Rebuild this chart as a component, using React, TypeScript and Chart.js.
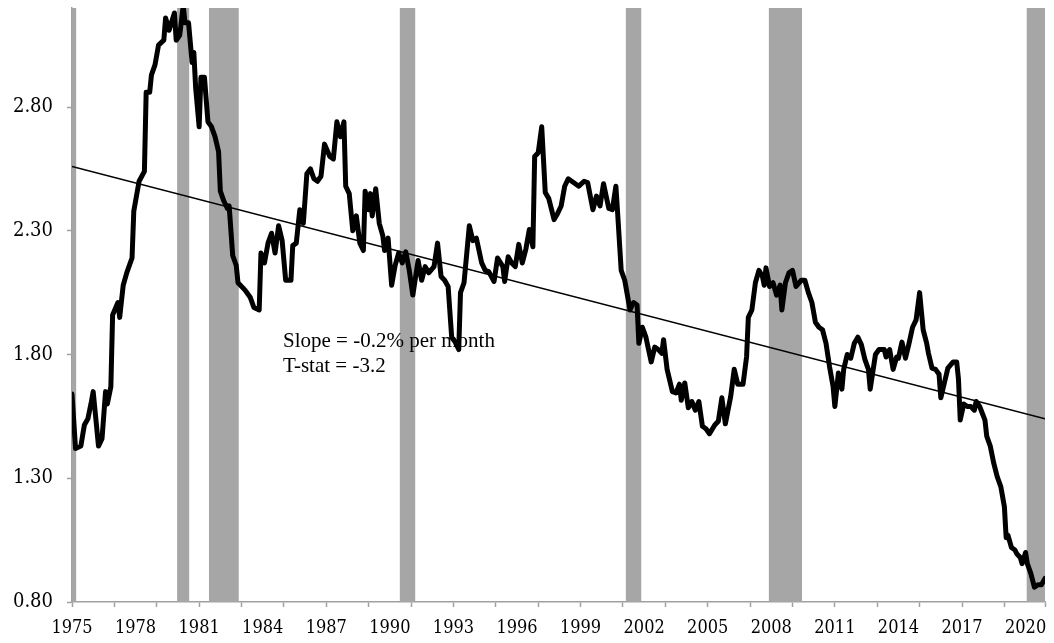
import React, { useEffect, useRef } from "react";
import { Chart, registerables } from "chart.js";

Chart.register(...registerables);

// Months counted from January 1975 (0 = Jan 1975)
const monthIndex = [
  0, 2, 5, 7, 9, 11, 12, 15, 17, 19, 20, 22, 23, 26, 27, 29, 31, 33, 34, 35,
  37, 38, 41, 42, 44, 45, 47, 49, 52, 53, 55, 58, 59, 61, 63, 64, 66, 68, 69, 70,
  72, 73, 75, 77, 79, 81, 83, 84, 86, 88, 89, 91, 93, 94, 98, 101, 103, 106, 107, 109,
  111, 113, 115, 117, 119, 121, 124, 125, 127, 129, 131, 133, 135, 137, 139, 141, 143, 146, 148, 150,
  152, 154, 155, 157, 159, 161, 163, 165, 166, 168, 169, 170, 172, 174, 176, 177, 179, 181, 183, 185,
  187, 189, 191, 193, 196, 198, 200, 202, 205, 207, 209, 211, 213, 215, 217, 219, 220, 222, 225, 227,
  229, 232, 234, 236, 239, 241, 244, 245, 247, 249, 251, 253, 255, 257, 259, 261, 262, 264, 266, 268,
  270, 273, 275, 277, 279, 281, 284, 287, 290, 292, 295, 297, 299, 301, 304, 306, 308, 309, 311, 313,
  315, 316, 318, 320, 321, 323, 325, 328, 330, 332, 334, 335, 337, 340, 342, 344, 345, 347, 349, 351,
  353, 355, 357, 359, 361, 364, 366, 368, 370, 373, 375, 377, 380, 382, 383, 385, 387, 389, 391, 392,
  393, 395, 397, 399, 401, 402, 404, 406, 408, 410, 413, 415, 417, 419, 421, 423, 425, 427, 429, 431,
  432, 434, 436, 437, 439, 441, 443, 445, 447, 449, 451, 452, 455, 457, 460, 461, 463, 465, 467, 468,
  470, 472, 474, 476, 478, 480, 482, 484, 485, 487, 489, 491, 492, 494, 496, 499, 501, 502, 503, 505,
  507, 509, 511, 512, 514, 517, 518, 520, 522, 524, 526, 528, 529, 530, 532, 534, 535, 537, 538, 540,
  541, 543, 545, 547, 549, 551,
];

const ratioValues = [
  1.64, 1.42, 1.43, 1.515, 1.54, 1.61, 1.65, 1.43, 1.46, 1.65, 1.6, 1.67, 1.96, 2.01, 1.95, 2.08, 2.13, 2.17, 2.19, 2.38,
  2.46, 2.5, 2.54, 2.86, 2.86, 2.93, 2.97, 3.05, 3.07, 3.16, 3.11, 3.18, 3.07, 3.09, 3.21, 3.14, 3.14, 2.98, 3.02, 2.88,
  2.72, 2.92, 2.92, 2.74, 2.72, 2.68, 2.62, 2.46, 2.42, 2.39, 2.4, 2.2, 2.16, 2.09, 2.06, 2.03, 1.99, 1.98, 2.21, 2.17,
  2.25, 2.29, 2.21, 2.32, 2.26, 2.1, 2.1, 2.24, 2.25, 2.385, 2.33, 2.53, 2.55, 2.51, 2.5, 2.52, 2.65, 2.6, 2.59, 2.74,
  2.68, 2.74, 2.48, 2.45, 2.3, 2.36, 2.25, 2.22, 2.46, 2.385, 2.45, 2.36, 2.47, 2.33, 2.28, 2.22, 2.27, 2.08, 2.16, 2.21,
  2.17, 2.215, 2.14, 2.04, 2.18, 2.1, 2.155, 2.13, 2.155, 2.25, 2.115, 2.1, 2.075, 1.87, 1.85, 1.82, 2.05, 2.09, 2.32, 2.26,
  2.27, 2.17, 2.14, 2.135, 2.095, 2.19, 2.155, 2.095, 2.195, 2.17, 2.155, 2.245, 2.17, 2.225, 2.305, 2.235, 2.6, 2.615, 2.72, 2.455,
  2.43, 2.345, 2.37, 2.4, 2.48, 2.51, 2.495, 2.48, 2.5, 2.495, 2.385, 2.44, 2.4, 2.49, 2.39, 2.385, 2.48, 2.37, 2.14, 2.1,
  2.02, 1.98, 2.01, 2.0, 1.845, 1.91, 1.87, 1.77, 1.83, 1.82, 1.805, 1.86, 1.74, 1.65, 1.645, 1.68, 1.615, 1.685, 1.585, 1.61,
  1.575, 1.61, 1.51, 1.5, 1.48, 1.515, 1.53, 1.625, 1.52, 1.63, 1.74, 1.68, 1.68, 1.79, 1.95, 1.98, 2.09, 2.14, 2.115, 2.08,
  2.15, 2.075, 2.09, 2.04, 2.08, 1.98, 2.09, 2.13, 2.14, 2.075, 2.1, 2.1, 2.05, 2.01, 1.93, 1.91, 1.9, 1.845, 1.75, 1.67,
  1.59, 1.725, 1.66, 1.74, 1.8, 1.785, 1.845, 1.87, 1.84, 1.78, 1.74, 1.66, 1.8, 1.82, 1.82, 1.79, 1.82, 1.74, 1.79, 1.785,
  1.85, 1.785, 1.845, 1.91, 1.94, 2.05, 1.9, 1.845, 1.805, 1.745, 1.74, 1.72, 1.625, 1.685, 1.745, 1.77, 1.77, 1.7, 1.535, 1.6,
  1.59, 1.59, 1.575, 1.61, 1.59, 1.535, 1.47, 1.43, 1.36, 1.305, 1.265, 1.185, 1.06, 1.07, 1.02, 1.01, 0.995, 0.98, 0.955, 1.0,
  0.955, 0.915, 0.86, 0.87, 0.87, 0.895,
];

// Recession months (first and last month of each recession, months from Jan 1975)
const recessionStart = [0, 60, 78, 186, 314, 395, 541];
const recessionEnd = [2, 66, 94, 194, 322, 413, 551];

// Fitted trend line end points
const trendMonths = [0, 551];
const trendValues = [2.56, 1.54];

const yTickValues = [0.8, 1.3, 1.8, 2.3, 2.8];
const startYear = 1975;
const lastMonth = 551;
const yMin = 0.8;
const yMax = 3.2;

const annotationLines = ["Slope = -0.2% per month", "T-stat = -3.2"];
const annotationMonth = 119.5;
const annotationValues = [1.83, 1.73];

const axisColor = "#a0a0a0";
const recessionColor = "#a6a6a6";
const serifFamily = "'DejaVu Serif Condensed', 'DejaVu Serif', serif";

const annotationPlugin = {
  id: "slopeNote",
  afterDatasetDraw(chart: any, args: any) {
    const ds = chart.data.datasets[args.index];
    if (!ds || ds.label !== "Trend") return;
    const { ctx } = chart;
    const xs = chart.scales.x;
    const ys = chart.scales.y;
    ctx.save();
    ctx.font = "21px 'Liberation Serif', 'Times New Roman', serif";
    ctx.fillStyle = "#000";
    ctx.textAlign = "left";
    ctx.textBaseline = "alphabetic";
    annotationLines.forEach((line, i) => {
      ctx.fillText(line, xs.getPixelForValue(annotationMonth), ys.getPixelForValue(annotationValues[i]));
    });
    ctx.restore();
  },
};

export default function App() {
  const canvasRef = useRef<HTMLCanvasElement | null>(null);

  useEffect(() => {
    if (!canvasRef.current) return;

    const recessionSets = recessionStart.map((s, i) => ({
      type: "line" as const,
      label: "Recession",
      data: [
        { x: s - 0.5, y: yMax },
        { x: recessionEnd[i] + 0.5, y: yMax },
      ],
      borderColor: "rgba(0,0,0,0)",
      borderWidth: 0,
      backgroundColor: recessionColor,
      fill: "start",
      pointRadius: 0,
      order: 3,
    }));

    const chart = new Chart(canvasRef.current, {
      type: "line",
      data: {
        datasets: [
          ...recessionSets,
          {
            label: "Trend",
            data: trendMonths.map((m, i) => ({ x: m, y: trendValues[i] })),
            borderColor: "#000",
            borderWidth: 1.5,
            pointRadius: 0,
            fill: false,
            order: 2,
          },
          {
            label: "Ratio",
            data: monthIndex.map((m, i) => ({ x: m, y: ratioValues[i] })),
            borderColor: "#000",
            borderWidth: 5,
            borderJoinStyle: "round",
            borderCapStyle: "round",
            pointRadius: 0,
            tension: 0,
            fill: false,
            order: 1,
          },
        ] as any,
      },
      options: {
        responsive: false,
        animation: false,
        devicePixelRatio: 1,
        layout: { padding: { top: 8, right: 9, bottom: 0, left: 0 } },
        plugins: {
          legend: { display: false },
          tooltip: { enabled: false },
        },
        scales: {
          x: {
            type: "linear",
            min: 0,
            max: lastMonth,
            afterBuildTicks: (scale: any) => {
              const t: any[] = [];
              for (let m = 0; m <= lastMonth; m += 12) t.push({ value: m });
              t.push({ value: lastMonth });
              scale.ticks = t;
            },
            afterFit: (scale: any) => {
              scale.height = 41;
              scale.paddingLeft = 0;
              scale.paddingRight = 0;
              scale.paddingTop = 0;
              scale.paddingBottom = 0;
            },
            grid: {
              drawOnChartArea: false,
              drawTicks: true,
              tickLength: 5,
              tickWidth: 1.5,
              tickColor: (ctx: any) => {
                const v = ctx.tick ? ctx.tick.value : -1;
                return v % 24 === 0 || v === lastMonth ? axisColor : "rgba(0,0,0,0)";
              },
            },
            border: { display: true, color: axisColor, width: 1.5 },
            ticks: {
              autoSkip: false,
              maxRotation: 0,
              minRotation: 0,
              padding: 11,
              color: "#000",
              font: { family: serifFamily, size: 18 },
              callback: (v: any) => (Number(v) % 36 === 0 ? String(startYear + Number(v) / 12) : ""),
            },
          },
          y: {
            type: "linear",
            min: yMin,
            max: yMax,
            afterBuildTicks: (scale: any) => {
              scale.ticks = yTickValues.map((v) => ({ value: v }));
            },
            afterFit: (scale: any) => {
              scale.width = 72;
              scale.paddingLeft = 0;
              scale.paddingRight = 0;
              scale.paddingTop = 0;
              scale.paddingBottom = 0;
            },
            grid: {
              drawOnChartArea: false,
              drawTicks: true,
              tickLength: 5,
              tickWidth: 1.5,
              tickColor: axisColor,
            },
            border: { display: true, color: axisColor, width: 1.5 },
            ticks: {
              padding: 14,
              color: "#000",
              font: { family: serifFamily, size: 20 },
              callback: (v: any) => Number(v).toFixed(2),
            },
          },
        },
      } as any,
      plugins: [annotationPlugin],
    });

    return () => chart.destroy();
  }, []);

  return (
    <div style={{ position: "fixed", left: 0, top: 0, width: 1054, height: 643, background: "#fff" }}>
      <canvas ref={canvasRef} width={1054} height={643} style={{ width: 1054, height: 643, display: "block" }} />
    </div>
  );
}
